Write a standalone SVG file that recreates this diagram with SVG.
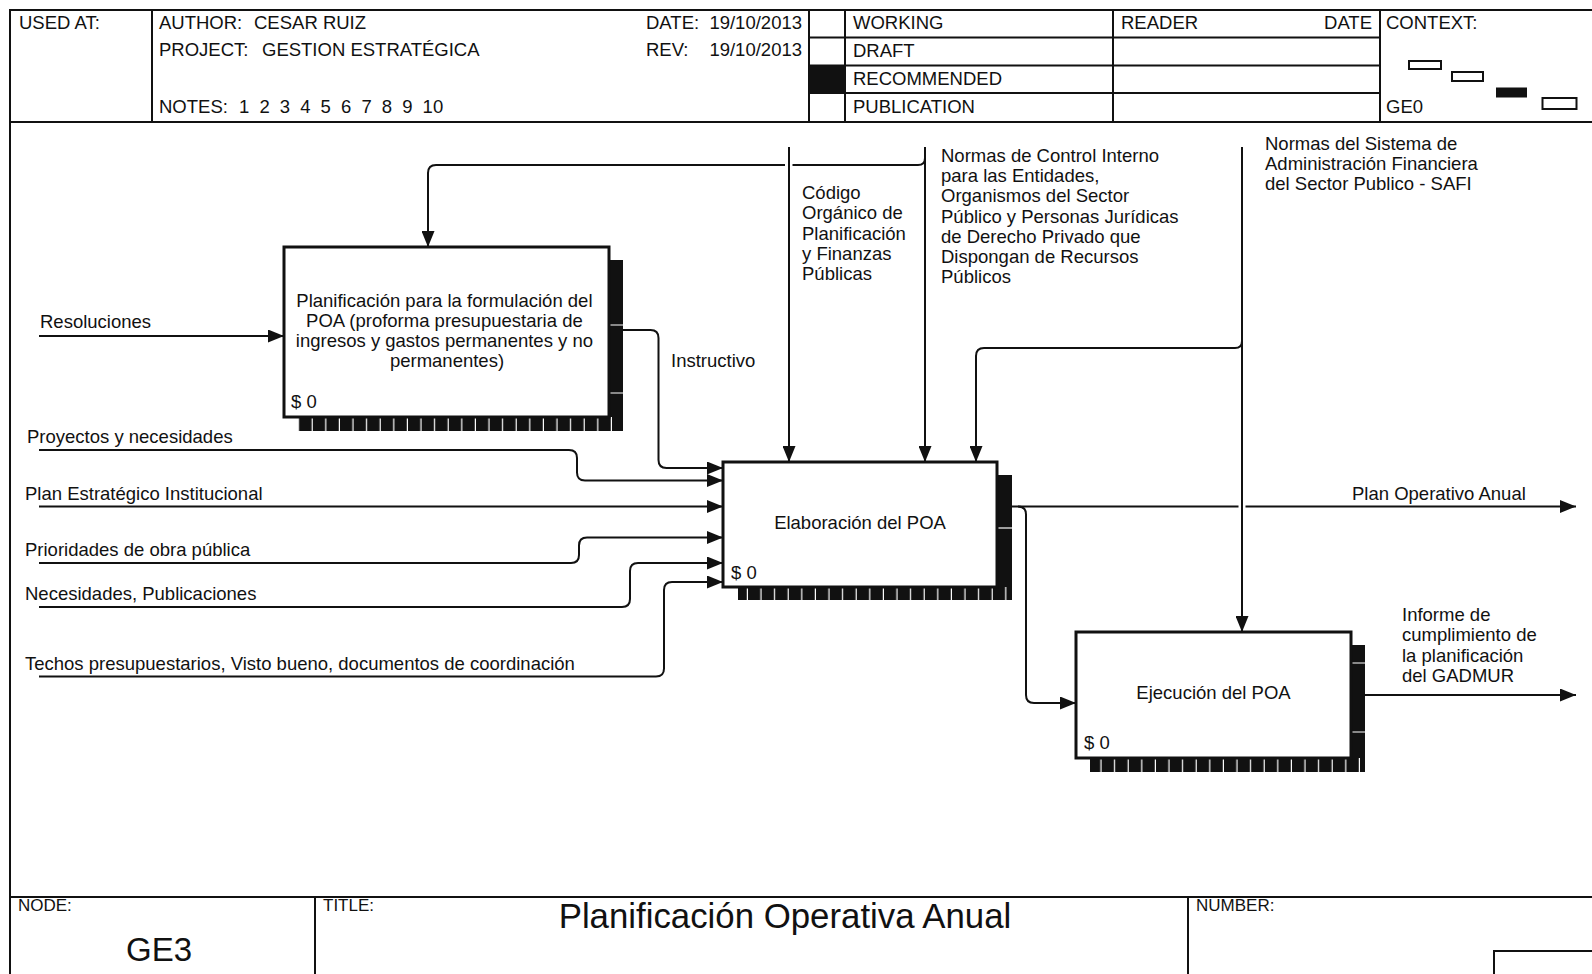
<svg xmlns="http://www.w3.org/2000/svg" width="1592" height="974" viewBox="0 0 1592 974">
  <defs>
    <marker id="arr" viewBox="0 0 16 13" refX="16" refY="6.5" markerWidth="16" markerHeight="13" markerUnits="userSpaceOnUse" orient="auto">
      <path d="M0,0 L16,6.5 L0,13 Z" fill="#111"/>
    </marker>
    <!-- black shadow strip with thin white separators -->
    <pattern id="ticks" patternUnits="userSpaceOnUse" width="13.6" height="20">
      <rect width="13.6" height="20" fill="#111"/>
      <rect x="12.4" width="1.2" height="20" fill="#fff"/>
    </pattern>
  </defs>
  <style>
    text { font-family: "Liberation Sans", Arial, sans-serif; fill: #111; }
    .hd { font-size: 18.5px; }
    .lb { font-size: 18.5px; }
    .ft { font-size: 17px; }
    .frame { fill: none; stroke: #111; stroke-width: 2; }
    .box { fill: #fff; stroke: #111; stroke-width: 3; }
    .shadow { fill: #111; }
    .tick { stroke: #fff; stroke-width: 1.2; }
    .wire { fill: none; stroke: #111; stroke-width: 2; }
    .arrow { marker-end: url(#arr); }
    .ctx { fill: #fff; stroke: #111; stroke-width: 2; }
  </style>

  <rect width="1592" height="974" fill="#fff"/>

  <!-- header block -->
  <g id="header">
    <path class="frame" d="M10,974 V10 H1592 M10,122 H1592"/>
    <path class="frame" d="M152,10 V122 M809,10 V122 M845,10 V122 M1113,10 V122 M1380,10 V122"/>
    <path class="frame" d="M809,37.5 H1380 M809,65.5 H1380 M809,93 H1380"/>
    <rect x="809" y="65.5" width="36" height="27.5" fill="#111"/>

    <text class="hd" x="19" y="29">USED AT:</text>
    <text class="hd" x="159" y="29">AUTHOR:</text>
    <text class="hd" x="254" y="29">CESAR RUIZ</text>
    <text class="hd" x="159" y="56">PROJECT:</text>
    <text class="hd" x="262" y="56">GESTION ESTRATÉGICA</text>
    <text class="hd" x="159" y="112.5">NOTES:</text>
    <text class="hd" x="239" y="112.5">1</text>
    <text class="hd" x="259.4" y="112.5">2</text>
    <text class="hd" x="279.8" y="112.5">3</text>
    <text class="hd" x="300.2" y="112.5">4</text>
    <text class="hd" x="320.6" y="112.5">5</text>
    <text class="hd" x="341" y="112.5">6</text>
    <text class="hd" x="361.4" y="112.5">7</text>
    <text class="hd" x="381.8" y="112.5">8</text>
    <text class="hd" x="402.2" y="112.5">9</text>
    <text class="hd" x="422.6" y="112.5">10</text>
    <text class="hd" x="646" y="29">DATE:</text>
    <text class="hd" x="802" y="29" text-anchor="end">19/10/2013</text>
    <text class="hd" x="646" y="56">REV:</text>
    <text class="hd" x="802" y="56" text-anchor="end">19/10/2013</text>

    <text class="hd" x="853" y="29">WORKING</text>
    <text class="hd" x="853" y="57">DRAFT</text>
    <text class="hd" x="853" y="85">RECOMMENDED</text>
    <text class="hd" x="853" y="112.5">PUBLICATION</text>
    <text class="hd" x="1121" y="29">READER</text>
    <text class="hd" x="1372" y="29" text-anchor="end">DATE</text>
    <text class="hd" x="1386" y="29">CONTEXT:</text>
    <text class="hd" x="1386" y="112.5">GE0</text>

    <rect class="ctx" x="1409" y="61" width="32" height="8"/>
    <rect class="ctx" x="1452" y="72" width="31" height="9"/>
    <rect x="1496" y="87.5" width="31" height="10" fill="#111"/>
    <rect class="ctx" x="1542.5" y="98" width="34" height="11"/>
  </g>

  <!-- footer block -->
  <g id="footer">
    <path class="frame" d="M10,897 H1592 M315,897 V974 M1188,897 V974"/>
    <text class="ft" x="18" y="911">NODE:</text>
    <text class="ft" x="323" y="911">TITLE:</text>
    <text class="ft" x="1196" y="911">NUMBER:</text>
    <text x="159" y="961" text-anchor="middle" font-size="33">GE3</text>
    <text x="785" y="928" text-anchor="middle" font-size="34.8">Planificación Operativa Anual</text>
    <rect class="frame" x="1494" y="951" width="110" height="40"/>
  </g>

  <!-- connectors -->
  <g id="connectors">
    <!-- inputs from the left -->
    <path class="wire arrow" d="M39,336 H284"/>
    <path class="wire arrow" d="M39,450 H569 Q577,450 577,458 V472.5 Q577,480.5 585,480.5 H723"/>
    <path class="wire arrow" d="M39,506.5 H723"/>
    <path class="wire arrow" d="M39,563 H571 Q579,563 579,555 V545.5 Q579,537.5 587,537.5 H723"/>
    <path class="wire arrow" d="M39,607 H622 Q630,607 630,599 V571 Q630,563 638,563 H723"/>
    <path class="wire arrow" d="M39,676.5 H656 Q664,676.5 664,668.5 V590 Q664,582 672,582 H723"/>
    <!-- Instructivo -->
    <path class="wire arrow" d="M623,330 H650.5 Q658.5,330 658.5,338 V460 Q658.5,468 666.5,468 H723"/>
    <!-- controls from the top -->
    <path class="wire arrow" d="M789,147 V462"/>
    <path class="wire arrow" d="M925,147 V462"/>
    <path class="wire" d="M925,158 Q925,165 918,165 H792.5"/>
    <path class="wire arrow" d="M785,165 H436 Q428,165 428,173 V247"/>
    <path class="wire arrow" d="M1242,147 V632"/>
    <path class="wire arrow" d="M1242,341 Q1242,348 1235,348 H984 Q976,348 976,356 V462"/>
    <!-- outputs -->
    <path class="wire" d="M1012,506.5 H1238.5"/>
    <path class="wire arrow" d="M1245.5,506.5 H1576"/>
    <path class="wire arrow" d="M1018,506.5 Q1026,506.5 1026,514.5 V695 Q1026,703 1034,703 H1076"/>
    <path class="wire arrow" d="M1365,695 H1576"/>
  </g>

  <!-- connector labels -->
  <g id="labels">
    <text class="lb" x="40" y="328">Resoluciones</text>
    <text class="lb" x="27" y="443">Proyectos y necesidades</text>
    <text class="lb" x="25" y="499.5">Plan Estratégico Institucional</text>
    <text class="lb" x="25" y="556">Prioridades de obra pública</text>
    <text class="lb" x="25" y="600">Necesidades, Publicaciones</text>
    <text class="lb" x="25" y="670">Techos presupuestarios, Visto bueno, documentos de coordinación</text>
    <text class="lb" x="671" y="367">Instructivo</text>
    <text class="lb" x="802" y="199">
      <tspan x="802" y="199">Código</tspan>
      <tspan x="802" y="219.3">Orgánico de</tspan>
      <tspan x="802" y="239.6">Planificación</tspan>
      <tspan x="802" y="259.9">y Finanzas</tspan>
      <tspan x="802" y="280.2">Públicas</tspan>
    </text>
    <text class="lb" x="941" y="162">
      <tspan x="941" y="162">Normas de Control Interno</tspan>
      <tspan x="941" y="182.2">para las Entidades,</tspan>
      <tspan x="941" y="202.4">Organismos del Sector</tspan>
      <tspan x="941" y="222.6">Público y Personas Jurídicas</tspan>
      <tspan x="941" y="242.8">de Derecho Privado que</tspan>
      <tspan x="941" y="263">Dispongan de Recursos</tspan>
      <tspan x="941" y="283.2">Públicos</tspan>
    </text>
    <text class="lb" x="1265" y="150">
      <tspan x="1265" y="150">Normas del Sistema de</tspan>
      <tspan x="1265" y="170">Administración Financiera</tspan>
      <tspan x="1265" y="190">del Sector Publico - SAFI</tspan>
    </text>
    <text class="lb" x="1352" y="500">Plan Operativo Anual</text>
    <text class="lb" x="1402" y="621">
      <tspan x="1402" y="621">Informe de</tspan>
      <tspan x="1402" y="641">cumplimiento de</tspan>
      <tspan x="1402" y="661.5">la planificación</tspan>
      <tspan x="1402" y="682">del GADMUR</tspan>
    </text>
  </g>

  <!-- activity boxes -->
  <g id="node-planificacion">
    <rect class="shadow" x="609" y="260" width="14" height="171"/>
    <rect x="298" y="417" width="325" height="14" fill="url(#ticks)"/>
    <path class="tick" d="M610,325 H623 M610,393 H623"/>
    <rect class="box" x="284" y="247" width="325" height="170"/>
    <text class="lb" text-anchor="middle">
      <tspan x="447" y="307">Planificación para la formulación del</tspan>
      <tspan x="447" y="327">POA (proforma presupuestaria de</tspan>
      <tspan x="447" y="347">ingresos y gastos permanentes y no</tspan>
      <tspan x="447" y="367">permanentes)</tspan>
    </text>
    <text class="lb" x="291" y="408">$ 0</text>
  </g>

  <g id="node-elaboracion">
    <rect class="shadow" x="997" y="475" width="15" height="125"/>
    <rect x="738" y="587" width="274" height="13" fill="url(#ticks)"/>
    <path class="tick" d="M998,528 H1012"/>
    <rect class="box" x="723" y="462" width="274" height="125"/>
    <text class="lb" x="860" y="529" text-anchor="middle">Elaboración del POA</text>
    <text class="lb" x="731" y="579">$ 0</text>
  </g>

  <g id="node-ejecucion">
    <rect class="shadow" x="1351" y="645" width="14" height="127"/>
    <rect x="1090" y="758" width="275" height="14" fill="url(#ticks)"/>
    <path class="tick" d="M1352,663 H1365 M1352,732 H1365"/>
    <rect class="box" x="1076" y="632" width="275" height="126"/>
    <text class="lb" x="1213.5" y="699" text-anchor="middle">Ejecución del POA</text>
    <text class="lb" x="1084" y="749">$ 0</text>
  </g>
</svg>
